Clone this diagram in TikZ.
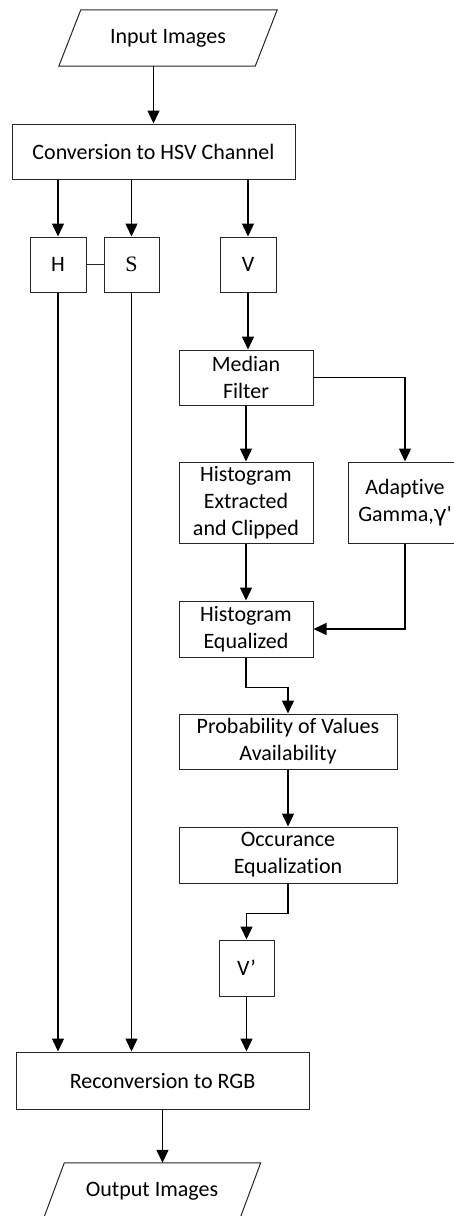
\documentclass[tikz,border=0pt]{standalone}
\usepackage{fontspec}
\setmainfont{Carlito}[Ligatures=NoCommon]
\newfontfamily\serifS{Liberation Serif}
\newfontfamily\greekG{DejaVu Sans}
\usepackage{tikz}
\usetikzlibrary{arrows.meta,calc,positioning}
\definecolor{BoxInk}{HTML}{262626}
\tikzset{
  flowbox/.style={draw=BoxInk, line width=1pt, rectangle, inner sep=0pt, align=center,
    font=\fontsize{22}{27}\selectfont},
  iobox/.style={inner sep=0pt, minimum width=196pt, minimum height=56pt,
    font=\fontsize{22}{27}\selectfont},
  flowarrow/.style={line width=1.4pt, -{Triangle[length=13pt,width=12pt]}},
  flowline/.style={BoxInk, line width=1pt}
}

\begin{document}
\begin{tikzpicture}[x=1pt, y=-1pt]
  \useasboundingbox (0,0) rectangle (453,1216);
  % input / output
  \node[iobox] (inp) at (168,38) {Input Images};
  \draw[flowline] ([xshift=11pt]inp.north west) -- ([xshift=11pt]inp.north east)
    -- ([xshift=-11pt]inp.south east) -- ([xshift=-11pt]inp.south west) -- cycle;
  \node[iobox] (out) at (152,1191) {Output Images};
  \draw[flowline] ([xshift=10.5pt]out.north west) -- ([xshift=10.5pt]out.north east)
    -- ([xshift=-10.5pt]out.south east) -- ([xshift=-10.5pt]out.south west) -- cycle;
  % process boxes
  \node[flowbox, minimum width=283pt, minimum height=55pt] (conv) at (153.5,151.5) {Conversion to HSV Channel};
  \node[flowbox, minimum width=56pt, minimum height=55pt] (chH) at (58,264.5) {H};
  \node[flowbox, minimum width=55pt, minimum height=55pt] (chS) at (131.5,264.5) {\serifS S};
  \node[flowbox, minimum width=56pt, minimum height=55pt] (chV) at (248,264.5) {V};
  \node[flowbox, minimum width=134pt, minimum height=55pt] (med) at (246,377.5) {Median\\Filter};
  \node[flowbox, minimum width=134pt, minimum height=81pt] (hext) at (246,502.5) {Histogram\\Extracted\\and Clipped};
  \node[flowbox, minimum width=114pt, minimum height=81pt] (gam) at (405,502.5) {Adaptive\\Gamma,{\greekG γ}\textquotesingle};
  \node[flowbox, minimum width=134pt, minimum height=56pt] (heq) at (246,629) {Histogram\\Equalized};
  \node[flowbox, minimum width=218pt, minimum height=55pt] (prob) at (288,741.5) {Probability of Values\\Availability};
  \node[flowbox, minimum width=218pt, minimum height=56pt] (occ) at (288,855) {Occurance\\Equalization};
  \node[flowbox, minimum width=55pt, minimum height=56pt] (vnew) at (246.5,968) {V’};
  \node[flowbox, minimum width=293pt, minimum height=57pt] (rec) at (162.5,1080.5) {Reconversion to RGB};
  % connectors
  \draw[flowarrow] (inp.south -| conv.north) -- (conv.north);
  \foreach \c in {chH, chS, chV}{
    \draw[flowarrow] (conv.south -| \c.north) -- (\c.north);
  }
  \draw[flowline] (chH.east) -- (chS.west);
  \draw[flowarrow] (chV.south) -- (chV.south |- med.north);
  \draw[flowarrow] (med.south) -- (hext.north);
  \draw[flowarrow] (med.east) -| (gam.north);
  \draw[flowarrow] (hext.south) -- (heq.north);
  \draw[flowarrow] (gam.south) |- (heq.east);
  \draw[flowarrow] (heq.south) -- ++(0,30) -| (prob.north);
  \draw[flowarrow] (prob.south) -- (occ.north);
  \draw[flowarrow] (occ.south) -- ++(0,30) -| (vnew.north);
  \foreach \c in {chH, chS, vnew}{
    \draw[flowarrow] (\c.south) -- (\c.south |- rec.north);
  }
  \draw[flowarrow] (rec.south) -- (rec.south |- out.north);
\end{tikzpicture}
\end{document}
